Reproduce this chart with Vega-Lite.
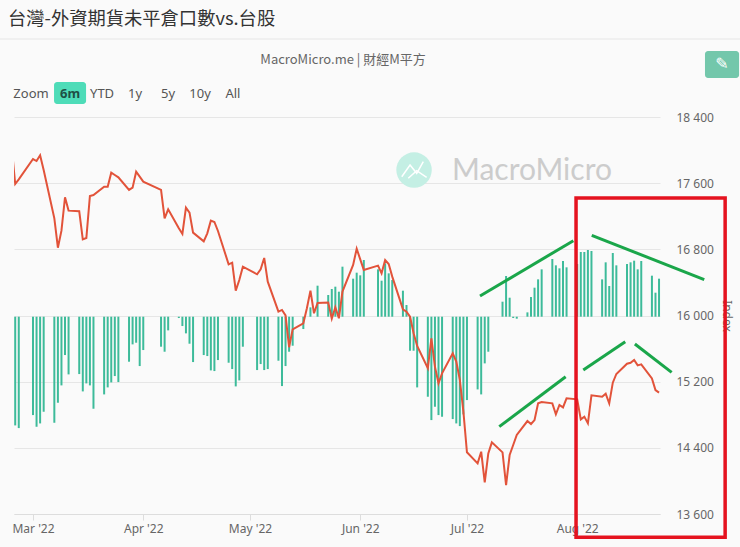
{"$schema":"https://vega.github.io/schema/vega-lite/v6.json","width":646,"height":397,"autosize":"none","padding":{"left":14,"top":117,"right":80,"bottom":33},"background":"#fafafa","view":{"stroke":null},"config":{"font":"Noto Sans","axis":{"labelFont":"Noto Sans"}},"title":{"text":"台灣-外資期貨未平倉口數vs.台股","anchor":"start","frame":"group","font":"Noto Sans CJK TC","fontSize":18.3,"fontWeight":"normal","color":"#333333","offset":9,"dx":-6},"datasets":{"bars":[{"date":"2022-02-24","net":-21744},{"date":"2022-02-25","net":-22278},{"date":"2022-03-01","net":-19677},{"date":"2022-03-02","net":-22011},{"date":"2022-03-03","net":-21344},{"date":"2022-03-04","net":-19010},{"date":"2022-03-07","net":-21211},{"date":"2022-03-08","net":-17209},{"date":"2022-03-09","net":-13740},{"date":"2022-03-10","net":-7671},{"date":"2022-03-11","net":-11539},{"date":"2022-03-14","net":-11472},{"date":"2022-03-15","net":-14941},{"date":"2022-03-16","net":-13340},{"date":"2022-03-17","net":-13740},{"date":"2022-03-18","net":-18409},{"date":"2022-03-21","net":-15541},{"date":"2022-03-22","net":-14140},{"date":"2022-03-23","net":-13140},{"date":"2022-03-24","net":-11873},{"date":"2022-03-25","net":-13073},{"date":"2022-03-28","net":-9005},{"date":"2022-03-29","net":-5536},{"date":"2022-03-30","net":-5203},{"date":"2022-03-31","net":-9872},{"date":"2022-04-01","net":-6670},{"date":"2022-04-06","net":-6003},{"date":"2022-04-07","net":-7004},{"date":"2022-04-08","net":-2735},{"date":"2022-04-11","net":-267},{"date":"2022-04-12","net":-1868},{"date":"2022-04-13","net":-3335},{"date":"2022-04-14","net":-5403},{"date":"2022-04-15","net":-9071},{"date":"2022-04-18","net":-7671},{"date":"2022-04-19","net":-7871},{"date":"2022-04-20","net":-10739},{"date":"2022-04-21","net":-10872},{"date":"2022-04-22","net":-8671},{"date":"2022-04-25","net":-9205},{"date":"2022-04-26","net":-10472},{"date":"2022-04-27","net":-13940},{"date":"2022-04-28","net":-12740},{"date":"2022-04-29","net":-6003},{"date":"2022-05-03","net":-10672},{"date":"2022-05-04","net":-9471},{"date":"2022-05-05","net":-10672},{"date":"2022-05-06","net":-10472},{"date":"2022-05-09","net":-8804},{"date":"2022-05-10","net":-13874},{"date":"2022-05-11","net":-9872},{"date":"2022-05-12","net":-7004},{"date":"2022-05-13","net":-5803},{"date":"2022-05-16","net":-2468},{"date":"2022-05-18","net":1868},{"date":"2022-05-20","net":6203},{"date":"2022-05-23","net":4336},{"date":"2022-05-24","net":5536},{"date":"2022-05-25","net":6003},{"date":"2022-05-26","net":5003},{"date":"2022-05-27","net":10005},{"date":"2022-05-30","net":7604},{"date":"2022-05-31","net":8804},{"date":"2022-06-01","net":8271},{"date":"2022-06-02","net":11339},{"date":"2022-06-06","net":9471},{"date":"2022-06-07","net":7204},{"date":"2022-06-08","net":10672},{"date":"2022-06-09","net":8671},{"date":"2022-06-10","net":7337},{"date":"2022-06-13","net":5203},{"date":"2022-06-14","net":2335},{"date":"2022-06-15","net":-6803},{"date":"2022-06-16","net":-6803},{"date":"2022-06-17","net":-14140},{"date":"2022-06-20","net":-16008},{"date":"2022-06-21","net":-20677},{"date":"2022-06-22","net":-18009},{"date":"2022-06-23","net":-19677},{"date":"2022-06-24","net":-20010},{"date":"2022-06-27","net":-20477},{"date":"2022-06-28","net":-21344},{"date":"2022-06-29","net":-21878},{"date":"2022-06-30","net":-19543},{"date":"2022-07-01","net":-16675},{"date":"2022-07-04","net":-14541},{"date":"2022-07-05","net":-15541},{"date":"2022-07-06","net":-9338},{"date":"2022-07-07","net":-7004},{"date":"2022-07-11","net":3002},{"date":"2022-07-12","net":8137},{"date":"2022-07-13","net":3802},{"date":"2022-07-14","net":-267},{"date":"2022-07-15","net":-400},{"date":"2022-07-18","net":867},{"date":"2022-07-19","net":3935},{"date":"2022-07-20","net":5803},{"date":"2022-07-21","net":7470},{"date":"2022-07-22","net":9471},{"date":"2022-07-25","net":11539},{"date":"2022-07-26","net":10272},{"date":"2022-07-27","net":9672},{"date":"2022-07-28","net":11139},{"date":"2022-07-29","net":9872},{"date":"2022-08-01","net":10539},{"date":"2022-08-02","net":12940},{"date":"2022-08-03","net":12940},{"date":"2022-08-04","net":13340},{"date":"2022-08-05","net":13140},{"date":"2022-08-08","net":7470},{"date":"2022-08-09","net":10872},{"date":"2022-08-10","net":6136},{"date":"2022-08-11","net":12740},{"date":"2022-08-12","net":10272},{"date":"2022-08-15","net":10539},{"date":"2022-08-16","net":10872},{"date":"2022-08-17","net":11206},{"date":"2022-08-18","net":9471},{"date":"2022-08-19","net":11139},{"date":"2022-08-22","net":8204},{"date":"2022-08-23","net":4802},{"date":"2022-08-24","net":7604}],"index":[{"date":"2022-02-23","taiex":18041},{"date":"2022-02-24","taiex":17590},{"date":"2022-02-25","taiex":17646},{"date":"2022-03-01","taiex":17892},{"date":"2022-03-02","taiex":17868},{"date":"2022-03-03","taiex":17937},{"date":"2022-03-04","taiex":17759},{"date":"2022-03-07","taiex":17175},{"date":"2022-03-08","taiex":16820},{"date":"2022-03-09","taiex":17026},{"date":"2022-03-10","taiex":17429},{"date":"2022-03-11","taiex":17268},{"date":"2022-03-14","taiex":17260},{"date":"2022-03-15","taiex":16921},{"date":"2022-03-16","taiex":16937},{"date":"2022-03-17","taiex":17445},{"date":"2022-03-18","taiex":17457},{"date":"2022-03-21","taiex":17558},{"date":"2022-03-22","taiex":17558},{"date":"2022-03-23","taiex":17727},{"date":"2022-03-24","taiex":17699},{"date":"2022-03-25","taiex":17671},{"date":"2022-03-28","taiex":17518},{"date":"2022-03-29","taiex":17546},{"date":"2022-03-30","taiex":17739},{"date":"2022-03-31","taiex":17679},{"date":"2022-04-01","taiex":17618},{"date":"2022-04-06","taiex":17518},{"date":"2022-04-07","taiex":17175},{"date":"2022-04-08","taiex":17284},{"date":"2022-04-11","taiex":17054},{"date":"2022-04-12","taiex":16986},{"date":"2022-04-13","taiex":17304},{"date":"2022-04-14","taiex":17243},{"date":"2022-04-15","taiex":17002},{"date":"2022-04-18","taiex":16897},{"date":"2022-04-19","taiex":16994},{"date":"2022-04-20","taiex":17147},{"date":"2022-04-21","taiex":17131},{"date":"2022-04-22","taiex":17022},{"date":"2022-04-25","taiex":16619},{"date":"2022-04-26","taiex":16639},{"date":"2022-04-27","taiex":16300},{"date":"2022-04-28","taiex":16429},{"date":"2022-04-29","taiex":16591},{"date":"2022-05-03","taiex":16498},{"date":"2022-05-04","taiex":16559},{"date":"2022-05-05","taiex":16696},{"date":"2022-05-06","taiex":16409},{"date":"2022-05-09","taiex":16047},{"date":"2022-05-10","taiex":16067},{"date":"2022-05-11","taiex":16002},{"date":"2022-05-12","taiex":15616},{"date":"2022-05-13","taiex":15833},{"date":"2022-05-16","taiex":15906},{"date":"2022-05-17","taiex":16087},{"date":"2022-05-18","taiex":16301},{"date":"2022-05-19","taiex":16027},{"date":"2022-05-20","taiex":16152},{"date":"2022-05-23","taiex":16156},{"date":"2022-05-24","taiex":15962},{"date":"2022-05-25","taiex":16099},{"date":"2022-05-26","taiex":15966},{"date":"2022-05-27","taiex":16289},{"date":"2022-05-30","taiex":16611},{"date":"2022-05-31","taiex":16808},{"date":"2022-06-01","taiex":16679},{"date":"2022-06-02","taiex":16551},{"date":"2022-06-06","taiex":16603},{"date":"2022-06-07","taiex":16510},{"date":"2022-06-08","taiex":16671},{"date":"2022-06-09","taiex":16623},{"date":"2022-06-10","taiex":16470},{"date":"2022-06-13","taiex":16075},{"date":"2022-06-14","taiex":16047},{"date":"2022-06-15","taiex":15986},{"date":"2022-06-16","taiex":15785},{"date":"2022-06-17","taiex":15632},{"date":"2022-06-20","taiex":15362},{"date":"2022-06-21","taiex":15724},{"date":"2022-06-22","taiex":15382},{"date":"2022-06-23","taiex":15180},{"date":"2022-06-24","taiex":15301},{"date":"2022-06-27","taiex":15543},{"date":"2022-06-28","taiex":15442},{"date":"2022-06-29","taiex":15221},{"date":"2022-06-30","taiex":14838},{"date":"2022-07-01","taiex":14346},{"date":"2022-07-04","taiex":14212},{"date":"2022-07-05","taiex":14353},{"date":"2022-07-06","taiex":13983},{"date":"2022-07-07","taiex":14333},{"date":"2022-07-08","taiex":14466},{"date":"2022-07-11","taiex":14345},{"date":"2022-07-12","taiex":13950},{"date":"2022-07-13","taiex":14313},{"date":"2022-07-14","taiex":14434},{"date":"2022-07-15","taiex":14555},{"date":"2022-07-18","taiex":14724},{"date":"2022-07-19","taiex":14688},{"date":"2022-07-20","taiex":14736},{"date":"2022-07-21","taiex":14938},{"date":"2022-07-22","taiex":14954},{"date":"2022-07-25","taiex":14938},{"date":"2022-07-26","taiex":14805},{"date":"2022-07-27","taiex":14918},{"date":"2022-07-28","taiex":14889},{"date":"2022-07-29","taiex":14998},{"date":"2022-08-01","taiex":14986},{"date":"2022-08-02","taiex":14744},{"date":"2022-08-03","taiex":14777},{"date":"2022-08-04","taiex":14696},{"date":"2022-08-05","taiex":15035},{"date":"2022-08-08","taiex":15018},{"date":"2022-08-09","taiex":15055},{"date":"2022-08-10","taiex":14938},{"date":"2022-08-11","taiex":15188},{"date":"2022-08-12","taiex":15293},{"date":"2022-08-15","taiex":15417},{"date":"2022-08-16","taiex":15429},{"date":"2022-08-17","taiex":15462},{"date":"2022-08-18","taiex":15397},{"date":"2022-08-19","taiex":15409},{"date":"2022-08-22","taiex":15240},{"date":"2022-08-23","taiex":15099},{"date":"2022-08-24","taiex":15067}]},"layer":[{"data":{"name":"bars"},"mark":{"type":"bar","width":2,"color":"#3dbb9a"},"encoding":{"x":{"field":"date","type":"temporal","scale":{"domain":["2022-02-23T15:50:00","2022-08-24T06:30:00"],"padding":0},"axis":{"tickCount":{"interval":"month","step":1},"format":"%b '%y","title":null,"grid":false,"tickSize":6,"tickColor":"#dddddd","domainColor":"#dddddd","labelColor":"#666666","labelFontSize":12,"labelPadding":3,"labelFont":"Noto Sans"}},"y":{"field":"net","type":"quantitative","scale":{"domain":[-39460,39940]},"axis":null}}},{"data":{"values":[{"date":"2022-06-16T03:00:00","taiex":17759}]},"mark":{"type":"point","filled":true,"size":1256,"color":"#c4efe4","opacity":1},"encoding":{"x":{"field":"date","type":"temporal"},"y":{"field":"taiex","type":"quantitative","axis":null,"scale":{"domain":[13600,18400]}}}},{"data":{"values":[{"date":"2022-06-12T16:00:00","taiex":17678,"part":"a"},{"date":"2022-06-15T00:00:00","taiex":17820,"part":"a"},{"date":"2022-06-16T21:00:00","taiex":17719,"part":"a"},{"date":"2022-06-18T17:30:00","taiex":17860,"part":"a"},{"date":"2022-06-14T12:00:00","taiex":17659,"part":"b"},{"date":"2022-06-16T21:00:00","taiex":17751,"part":"b"},{"date":"2022-06-19T16:00:00","taiex":17671,"part":"b"}]},"mark":{"type":"line","color":"#ffffff","strokeWidth":1.5},"encoding":{"x":{"field":"date","type":"temporal"},"y":{"field":"taiex","type":"quantitative","axis":null,"scale":{"domain":[13600,18400]}},"detail":{"field":"part"}}},{"data":{"values":[{"date":"2022-06-26T19:00:00","taiex":17745,"label":"MacroMicro"}]},"mark":{"type":"text","align":"left","baseline":"middle","font":"Lato","fontSize":30,"color":"#cccccc"},"encoding":{"x":{"field":"date","type":"temporal"},"y":{"field":"taiex","type":"quantitative","axis":null,"scale":{"domain":[13600,18400]}},"text":{"field":"label"}}},{"data":{"name":"index"},"mark":{"type":"line","color":"#e2533a","strokeWidth":2,"clip":true},"encoding":{"x":{"field":"date","type":"temporal"},"y":{"field":"taiex","type":"quantitative","scale":{"domain":[13600,18400]},"axis":{"orient":"right","values":[13600,14400,15200,16000,16800,17600,18400],"labelExpr":"replace(format(datum.value, ','), ',', ' ')","title":"Index","titleAngle":90,"titleColor":"#666666","titleFontSize":12,"titleFontWeight":"normal","titlePadding":6,"grid":true,"gridColor":"#e6e6e6","domain":false,"ticks":false,"labelPadding":16,"labelColor":"#666666","labelFontSize":12,"labelFont":"Noto Sans"}}}},{"data":{"values":[{"date":"2022-07-04T16:00:00","taiex":16236,"date2":"2022-07-30T22:00:00","taiex2":16904},{"date":"2022-08-05T02:00:00","taiex":16970,"date2":"2022-09-05T17:00:00","taiex2":16433},{"date":"2022-07-10T02:00:00","taiex":14656,"date2":"2022-07-28T18:00:00","taiex2":15260},{"date":"2022-08-02T17:00:00","taiex":15341,"date2":"2022-08-14T12:00:00","taiex2":15683},{"date":"2022-08-17T05:00:00","taiex":15656,"date2":"2022-08-27T13:00:00","taiex2":15313}]},"mark":{"type":"rule","color":"#1aa64a","strokeWidth":3},"encoding":{"x":{"field":"date","type":"temporal"},"x2":{"field":"date2"},"y":{"field":"taiex","type":"quantitative","axis":null,"scale":{"domain":[13600,18400]}},"y2":{"field":"taiex2"}}},{"data":{"values":[{"date":"2022-07-31T16:00:00","taiex":17421,"date2":"2022-09-11T14:00:00","taiex2":13319}]},"mark":{"type":"rect","fill":null,"fillOpacity":0,"stroke":"#e5131f","strokeWidth":3.5},"encoding":{"x":{"field":"date","type":"temporal"},"x2":{"field":"date2"},"y":{"field":"taiex","type":"quantitative","axis":null,"scale":{"domain":[13600,18400]}},"y2":{"field":"taiex2"}}},{"data":{"values":[{"date":"2022-02-19T17:00:00","taiex":19343,"date2":"2022-09-15T18:00:00"}]},"mark":{"type":"rule","color":"#e6e6e6","strokeWidth":1},"encoding":{"x":{"field":"date","type":"temporal"},"x2":{"field":"date2"},"y":{"field":"taiex","type":"quantitative","axis":null,"scale":{"domain":[13600,18400]}}}},{"data":{"values":[{"date":"2022-03-06T22:00:00","taiex":18823,"date2":"2022-03-15T22:00:00","taiex2":18557,"button":"6m"},{"date":"2022-09-05T22:00:00","taiex":19198,"date2":"2022-09-15T12:00:00","taiex2":18872,"button":"edit"}]},"mark":{"type":"rect","cornerRadius":3},"encoding":{"x":{"field":"date","type":"temporal"},"x2":{"field":"date2"},"y":{"field":"taiex","type":"quantitative","axis":null,"scale":{"domain":[13600,18400]}},"y2":{"field":"taiex2"},"color":{"field":"button","type":"nominal","legend":null,"scale":{"domain":["6m","edit"],"range":["#4edcb8","#73c7ab"]}}}},{"data":{"values":[{"date":"2022-05-27T04:00:00","taiex":19089,"label":"MacroMicro.me | 財經M平方"}]},"mark":{"type":"text","align":"center","baseline":"middle","font":"Noto Sans CJK TC","fontSize":13,"color":"#666666"},"encoding":{"x":{"field":"date","type":"temporal"},"y":{"field":"taiex","type":"quantitative","axis":null,"scale":{"domain":[13600,18400]}},"text":{"field":"label"}}},{"data":{"values":[{"date":"2022-02-28T10:30:00","taiex":18680,"label":"Zoom"},{"date":"2022-03-20T10:00:00","taiex":18680,"label":"YTD"},{"date":"2022-03-29T17:00:00","taiex":18680,"label":"1y"},{"date":"2022-04-07T23:00:00","taiex":18680,"label":"5y"},{"date":"2022-04-16T23:00:00","taiex":18680,"label":"10y"},{"date":"2022-04-26T05:00:00","taiex":18680,"label":"All"}]},"mark":{"type":"text","align":"center","baseline":"middle","font":"Noto Sans","fontSize":13,"color":"#555555"},"encoding":{"x":{"field":"date","type":"temporal"},"y":{"field":"taiex","type":"quantitative","axis":null,"scale":{"domain":[13600,18400]}},"text":{"field":"label"}}},{"data":{"values":[{"date":"2022-03-11T10:00:00","taiex":18680,"label":"6m"}]},"mark":{"type":"text","align":"center","baseline":"middle","font":"Noto Sans","fontSize":13,"fontWeight":"bold","color":"#1f4f45"},"encoding":{"x":{"field":"date","type":"temporal"},"y":{"field":"taiex","type":"quantitative","axis":null,"scale":{"domain":[13600,18400]}},"text":{"field":"label"}}},{"data":{"values":[{"date":"2022-09-10T17:00:00","taiex":19035,"label":"✎"}]},"mark":{"type":"text","align":"center","baseline":"middle","font":"DejaVu Sans","fontSize":16,"color":"#ffffff"},"encoding":{"x":{"field":"date","type":"temporal"},"y":{"field":"taiex","type":"quantitative","axis":null,"scale":{"domain":[13600,18400]}},"text":{"field":"label"}}}],"resolve":{"scale":{"y":"independent"}}}
